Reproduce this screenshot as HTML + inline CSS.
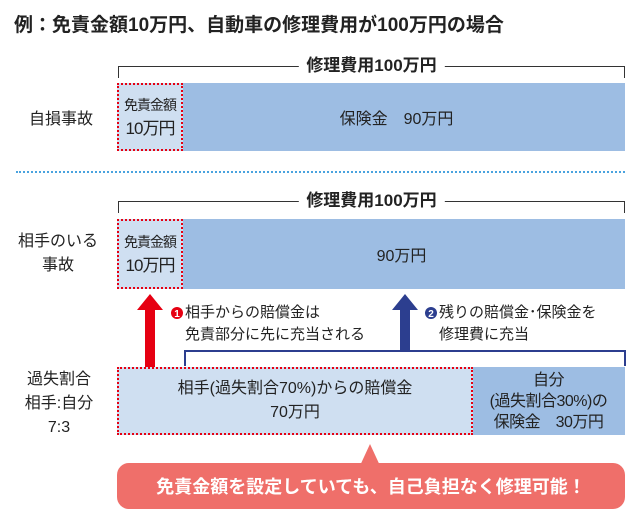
<!DOCTYPE html>
<html><head><meta charset="utf-8"><style>
*{margin:0;padding:0;box-sizing:border-box}
body{width:640px;height:525px;background:#fff;position:relative;overflow:hidden;font-family:"Liberation Sans","Noto Sans CJK JP",sans-serif;color:#222}
.a{position:absolute}
.c{display:flex;align-items:center;justify-content:center;text-align:center}
.c>div{text-align:center}
.dark{background:#9dbde3}
.light{background:#cfdff1;border:2px dotted #e60012}
.br{border:1px solid #333;border-bottom:none;height:12px}
.bl{position:absolute;background:#fff;padding:0 8px;font-weight:bold;font-size:17px;top:-13px;left:50%;transform:translateX(-50%);white-space:nowrap;line-height:24px}
</style></head><body>
<div class="a" style="left:14px;top:14px;font-size:19px;font-weight:bold;line-height:24px">例：免責金額10万円、自動車の修理費用が100万円の場合</div>

<div class="a br" style="left:118px;top:66px;width:507px"><div class="bl">修理費用100万円</div></div>
<div class="a c dark" style="left:118px;top:83px;width:507px;height:68px;font-size:16px;padding-left:50px"><div>保険金　90万円</div></div>
<div class="a c light" style="left:117px;top:83px;width:66px;height:68px"><div style="font-size:14px;line-height:24px;letter-spacing:-1px">免責金額<br><span style="font-size:17px">10万円</span></div></div>
<div class="a c" style="left:16px;top:83px;width:90px;height:68px;font-size:16px"><div>自損事故</div></div>

<div class="a" style="left:16px;top:171px;width:609px;border-top:2px dotted #4aa3df"></div>

<div class="a br" style="left:118px;top:201px;width:507px"><div class="bl">修理費用100万円</div></div>
<div class="a c dark" style="left:118px;top:219px;width:507px;height:70px;font-size:16px;padding-left:60px"><div>90万円</div></div>
<div class="a c light" style="left:117px;top:219px;width:66px;height:70px"><div style="font-size:14px;line-height:24px;letter-spacing:-1px">免責金額<br><span style="font-size:17px">10万円</span></div></div>
<div class="a" style="left:10px;top:230px;width:96px;font-size:16px;line-height:24px;text-align:center">相手のいる<br>事故</div>

<svg class="a" style="left:0;top:0" width="640" height="525">
<polygon points="150,294 163,310 155,310 155,372 145,372 145,310 137,310" fill="#e60012"/>
<polygon points="405,294 418,310 410,310 410,352 400,352 400,310 392,310" fill="#2c3e8f"/>
<polyline points="185,366 185,351 625,351 625,366" fill="none" stroke="#2c3e8f" stroke-width="2"/>
<circle cx="177" cy="313" r="6" fill="#e60012"/><text x="177" y="317" font-size="10" fill="#fff" text-anchor="middle" font-weight="bold" font-family="Liberation Sans">1</text>
<circle cx="431" cy="313" r="6" fill="#2c3e8f"/><text x="431" y="317" font-size="10" fill="#fff" text-anchor="middle" font-weight="bold" font-family="Liberation Sans">2</text>
<polygon points="370,444 358,470 382,470" fill="#ef6f6a"/>
</svg>
<div class="a" style="left:185px;top:302px;font-size:15px;line-height:22px">相手からの賠償金は<br>免責部分に先に充当される</div>
<div class="a" style="left:439px;top:302px;font-size:15px;line-height:22px">残りの賠償金･保険金を<br>修理費に充当</div>

<div class="a c dark" style="left:472px;top:367px;width:153px;height:68px"><div style="font-size:16px;line-height:21px;white-space:nowrap;letter-spacing:-0.5px">自分<br>(過失割合30%)の<br>保険金　30万円</div></div>
<div class="a c light" style="left:117px;top:367px;width:356px;height:68px"><div style="font-size:16px;line-height:24px">相手(過失割合70%)からの賠償金<br>70万円</div></div>
<div class="a" style="left:14px;top:368px;width:90px;font-size:16px;line-height:24px;text-align:center">過失割合<br>相手:自分<br>7:3</div>

<div class="a c" style="left:117px;top:463px;width:508px;height:46px;background:#ef6f6a;border-radius:12px;color:#fff;font-weight:bold;font-size:18px"><div>免責金額を設定していても、自己負担なく修理可能！</div></div>
</body></html>
